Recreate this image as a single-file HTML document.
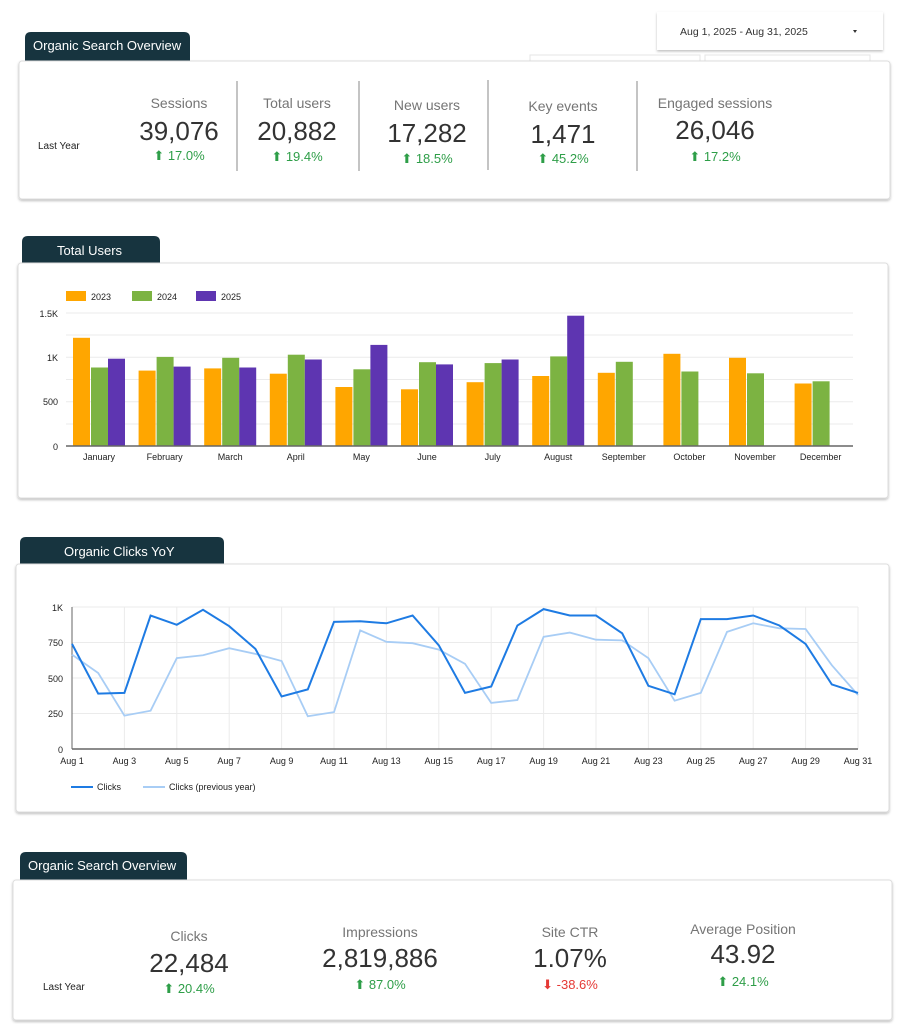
<!DOCTYPE html>
<html><head><meta charset="utf-8"><style>
html,body{margin:0;padding:0;background:#fff;width:907px;height:1024px;overflow:hidden}
svg{display:block;font-family:"Liberation Sans",sans-serif}
.lab{fill:#757575;font-size:14px}
.big{fill:#333;font-size:26px}
.up{fill:#2e9e48;font-size:13px}
.dn{fill:#e53935;font-size:13px}
.tk{fill:#222;font-size:9px}
.tab{fill:#fff;font-size:13px}
</style></head><body>
<svg width="907" height="1024" viewBox="0 0 907 1024">
<defs><filter id="sh" x="-5%" y="-5%" width="110%" height="115%"><feDropShadow dx="0" dy="1.5" stdDeviation="1.2" flood-color="#000" flood-opacity="0.25"/></filter></defs>

<!-- date box -->
<rect x="657" y="12" width="226" height="38" fill="#fff" filter="url(#sh)"/>
<text x="680" y="35" font-size="10.5" fill="#333">Aug 1, 2025 - Aug 31, 2025</text>
<path d="M853 30 l4 0 l-2 3 z" fill="#333"/>
<rect x="530" y="55" width="170" height="10" fill="#fff" stroke="#e5e5e5"/>
<rect x="705" y="55" width="165" height="10" fill="#fff" stroke="#e5e5e5"/>

<!-- Card 1 -->
<path d="M25 61 V38 q0-6 6-6 H184 q6 0 6 6 V61 z" fill="#17343f"/>
<text x="33" y="50" class="tab">Organic Search Overview</text>
<rect x="19" y="61" width="871" height="138" rx="3" fill="#fff" stroke="#ddd" filter="url(#sh)"/>
<text x="38" y="149" font-size="10" fill="#222">Last Year</text>
<g stroke="#888" stroke-width="1"><line x1="237" y1="81" x2="237" y2="171"/><line x1="359" y1="81" x2="359" y2="171"/><line x1="488" y1="80" x2="488" y2="170"/><line x1="637" y1="81" x2="637" y2="171"/></g>
<g text-anchor="middle">
<text x="179" y="108" class="lab" font-size="13.5">Sessions</text><text x="179" y="140" class="big">39,076</text><text x="179" y="160" class="up">⬆ 17.0%</text>
<text x="297" y="108" class="lab" font-size="13.5">Total users</text><text x="297" y="140" class="big">20,882</text><text x="297" y="161" class="up">⬆ 19.4%</text>
<text x="427" y="110" class="lab" font-size="13.5">New users</text><text x="427" y="142" class="big">17,282</text><text x="427" y="163" class="up">⬆ 18.5%</text>
<text x="563" y="111" class="lab" font-size="13.5">Key events</text><text x="563" y="143" class="big">1,471</text><text x="563" y="163" class="up">⬆ 45.2%</text>
<text x="715" y="108" class="lab" font-size="13.5">Engaged sessions</text><text x="715" y="139" class="big">26,046</text><text x="715" y="161" class="up">⬆ 17.2%</text>
</g>

<!-- Card 2 -->
<path d="M22 263 V242 q0-6 6-6 H154 q6 0 6 6 V263 z" fill="#17343f"/>
<text x="57" y="255" class="tab">Total Users</text>
<rect x="18" y="263" width="870" height="235" rx="3" fill="#fff" stroke="#ddd" filter="url(#sh)"/>
<rect x="66" y="291" width="20" height="10" fill="#ffa600"/><text x="91" y="300" class="tk" font-size="10">2023</text>
<rect x="132" y="291" width="20" height="10" fill="#7cb342"/><text x="157" y="300" class="tk" font-size="10">2024</text>
<rect x="196" y="291" width="20" height="10" fill="#5e35b1"/><text x="221" y="300" class="tk" font-size="10">2025</text>
<g stroke="#ebebeb"><line x1="66" y1="313" x2="853" y2="313"/><line x1="66" y1="335" x2="853" y2="335"/><line x1="66" y1="357.3" x2="853" y2="357.3"/><line x1="66" y1="379.5" x2="853" y2="379.5"/><line x1="66" y1="401.7" x2="853" y2="401.7"/><line x1="66" y1="424" x2="853" y2="424"/></g>
<g class="tk" text-anchor="end"><text x="58" y="317">1.5K</text><text x="58" y="361">1K</text><text x="58" y="405">500</text><text x="58" y="450">0</text></g>
<g>
<rect x="73" y="337.8" width="17" height="108.2" fill="#ffa600"/><rect x="91" y="367.5" width="17" height="78.5" fill="#7cb342"/><rect x="108" y="358.7" width="17" height="87.3" fill="#5e35b1"/>
<rect x="138.6" y="370.6" width="17" height="75.4" fill="#ffa600"/><rect x="156.6" y="356.9" width="17" height="89.1" fill="#7cb342"/><rect x="173.6" y="366.6" width="17" height="79.4" fill="#5e35b1"/>
<rect x="204.2" y="368.4" width="17" height="77.6" fill="#ffa600"/><rect x="222.2" y="357.8" width="17" height="88.2" fill="#7cb342"/><rect x="239.2" y="367.5" width="17" height="78.5" fill="#5e35b1"/>
<rect x="269.8" y="373.7" width="17" height="72.3" fill="#ffa600"/><rect x="287.8" y="354.7" width="17" height="91.3" fill="#7cb342"/><rect x="304.8" y="359.5" width="17" height="86.5" fill="#5e35b1"/>
<rect x="335.4" y="387" width="17" height="59" fill="#ffa600"/><rect x="353.4" y="369.3" width="17" height="76.7" fill="#7cb342"/><rect x="370.4" y="344.9" width="17" height="101.1" fill="#5e35b1"/>
<rect x="401" y="389.3" width="17" height="56.7" fill="#ffa600"/><rect x="419" y="362.2" width="17" height="83.8" fill="#7cb342"/><rect x="436" y="364.4" width="17" height="81.6" fill="#5e35b1"/>
<rect x="466.6" y="382.2" width="17" height="63.8" fill="#ffa600"/><rect x="484.6" y="363.1" width="17" height="82.9" fill="#7cb342"/><rect x="501.6" y="359.5" width="17" height="86.5" fill="#5e35b1"/>
<rect x="532.2" y="376" width="17" height="70" fill="#ffa600"/><rect x="550.2" y="356.4" width="17" height="89.6" fill="#7cb342"/><rect x="567.2" y="315.7" width="17" height="130.3" fill="#5e35b1"/>
<rect x="597.8" y="372.8" width="17" height="73.2" fill="#ffa600"/><rect x="615.8" y="361.8" width="17" height="84.2" fill="#7cb342"/>
<rect x="663.4" y="353.8" width="17" height="92.2" fill="#ffa600"/><rect x="681.4" y="371.5" width="17" height="74.5" fill="#7cb342"/>
<rect x="729" y="357.8" width="17" height="88.2" fill="#ffa600"/><rect x="747" y="373.3" width="17" height="72.7" fill="#7cb342"/>
<rect x="794.6" y="383.5" width="17" height="62.5" fill="#ffa600"/><rect x="812.6" y="381.3" width="17" height="64.7" fill="#7cb342"/>
</g>
<line x1="66" y1="446" x2="853" y2="446" stroke="#666" stroke-width="1.5"/>
<g class="tk" text-anchor="middle">
<text x="99" y="460">January</text><text x="164.6" y="460">February</text><text x="230.2" y="460">March</text><text x="295.8" y="460">April</text><text x="361.4" y="460">May</text><text x="427" y="460">June</text><text x="492.6" y="460">July</text><text x="558.2" y="460">August</text><text x="623.8" y="460">September</text><text x="689.4" y="460">October</text><text x="755" y="460">November</text><text x="820.6" y="460">December</text>
</g>

<!-- Card 3 -->
<path d="M20 564 V543 q0-6 6-6 H218 q6 0 6 6 V564 z" fill="#17343f"/>
<text x="64" y="556" class="tab">Organic Clicks YoY</text>
<rect x="16" y="564" width="873" height="248" rx="3" fill="#fff" stroke="#ddd" filter="url(#sh)"/>
<g stroke="#ebebeb">
<line x1="72" y1="607" x2="858" y2="607"/><line x1="72" y1="642.5" x2="858" y2="642.5"/><line x1="72" y1="678" x2="858" y2="678"/><line x1="72" y1="713.5" x2="858" y2="713.5"/>
<line x1="124.4" y1="607" x2="124.4" y2="749"/><line x1="176.8" y1="607" x2="176.8" y2="749"/><line x1="229.2" y1="607" x2="229.2" y2="749"/><line x1="281.6" y1="607" x2="281.6" y2="749"/><line x1="334" y1="607" x2="334" y2="749"/><line x1="386.4" y1="607" x2="386.4" y2="749"/><line x1="438.8" y1="607" x2="438.8" y2="749"/><line x1="491.2" y1="607" x2="491.2" y2="749"/><line x1="543.6" y1="607" x2="543.6" y2="749"/><line x1="596" y1="607" x2="596" y2="749"/><line x1="648.4" y1="607" x2="648.4" y2="749"/><line x1="700.8" y1="607" x2="700.8" y2="749"/><line x1="753.2" y1="607" x2="753.2" y2="749"/><line x1="805.6" y1="607" x2="805.6" y2="749"/><line x1="858" y1="607" x2="858" y2="749"/>
</g>
<line x1="72" y1="607" x2="72" y2="749" stroke="#666"/>
<line x1="72" y1="749" x2="858" y2="749" stroke="#666" stroke-width="1.5"/>
<g class="tk" text-anchor="end"><text x="63" y="611">1K</text><text x="63" y="646">750</text><text x="63" y="682">500</text><text x="63" y="717">250</text><text x="63" y="753">0</text></g>
<g class="tk" text-anchor="middle">
<text x="72" y="764">Aug 1</text><text x="124.4" y="764">Aug 3</text><text x="176.8" y="764">Aug 5</text><text x="229.2" y="764">Aug 7</text><text x="281.6" y="764">Aug 9</text><text x="334" y="764">Aug 11</text><text x="386.4" y="764">Aug 13</text><text x="438.8" y="764">Aug 15</text><text x="491.2" y="764">Aug 17</text><text x="543.6" y="764">Aug 19</text><text x="596" y="764">Aug 21</text><text x="648.4" y="764">Aug 23</text><text x="700.8" y="764">Aug 25</text><text x="753.2" y="764">Aug 27</text><text x="805.6" y="764">Aug 29</text><text x="858" y="764">Aug 31</text>
</g>
<polyline fill="none" stroke="#a8cdf5" stroke-width="1.8" points="72,654.6 98.2,673 124.4,715.6 150.6,710.7 176.8,658.1 203,655.3 229.2,648.2 255.4,653.9 281.6,661 307.8,716.3 334,712.1 360.2,630.4 386.4,641.8 412.6,643.2 438.8,649.6 465,663.8 491.2,702.9 517.4,700 543.6,636.8 569.8,632.6 596,639.7 622.2,640.4 648.4,658.1 674.6,700.7 700.8,692.9 727,631.9 753.2,623.3 779.4,628.3 805.6,629 831.8,665.2 858,695"/>
<polyline fill="none" stroke="#1e7be3" stroke-width="2" points="72,643.9 98.2,693.6 124.4,692.9 150.6,615.5 176.8,624.8 203,609.8 229.2,626.2 255.4,648.9 281.6,696.5 307.8,689.4 334,621.9 360.2,621.2 386.4,623.3 412.6,615.5 438.8,645.3 465,692.9 491.2,686.5 517.4,625.5 543.6,609.1 569.8,615.5 596,615.5 622.2,633.3 648.4,685.8 674.6,694.3 700.8,619.1 727,619.1 753.2,615.5 779.4,625.5 805.6,643.9 831.8,684.4 858,692.9"/>
<line x1="71" y1="787" x2="93" y2="787" stroke="#1e7be3" stroke-width="2"/><text x="97" y="790" class="tk" font-size="10">Clicks</text>
<line x1="143" y1="787" x2="165" y2="787" stroke="#a8cdf5" stroke-width="2"/><text x="169" y="790" class="tk" font-size="10">Clicks (previous year)</text>

<!-- Card 4 -->
<path d="M20 880 V858 q0-6 6-6 H181 q6 0 6 6 V880 z" fill="#17343f"/>
<text x="28" y="870" class="tab">Organic Search Overview</text>
<rect x="13" y="880" width="879" height="140" rx="3" fill="#fff" stroke="#ddd" filter="url(#sh)"/>
<text x="43" y="990" font-size="10" fill="#222">Last Year</text>
<g text-anchor="middle">
<text x="189" y="941" class="lab" font-size="13.5">Clicks</text><text x="189" y="972" class="big">22,484</text><text x="189" y="993" class="up">⬆ 20.4%</text>
<text x="380" y="937" class="lab" font-size="13.5">Impressions</text><text x="380" y="967" class="big">2,819,886</text><text x="380" y="989" class="up">⬆ 87.0%</text>
<text x="570" y="937" class="lab" font-size="13.5">Site CTR</text><text x="570" y="967" class="big">1.07%</text><text x="570" y="989" class="dn">⬇ -38.6%</text>
<text x="743" y="934" class="lab" font-size="13.5">Average Position</text><text x="743" y="963" class="big">43.92</text><text x="743" y="986" class="up">⬆ 24.1%</text>
</g>
</svg>
</body></html>
